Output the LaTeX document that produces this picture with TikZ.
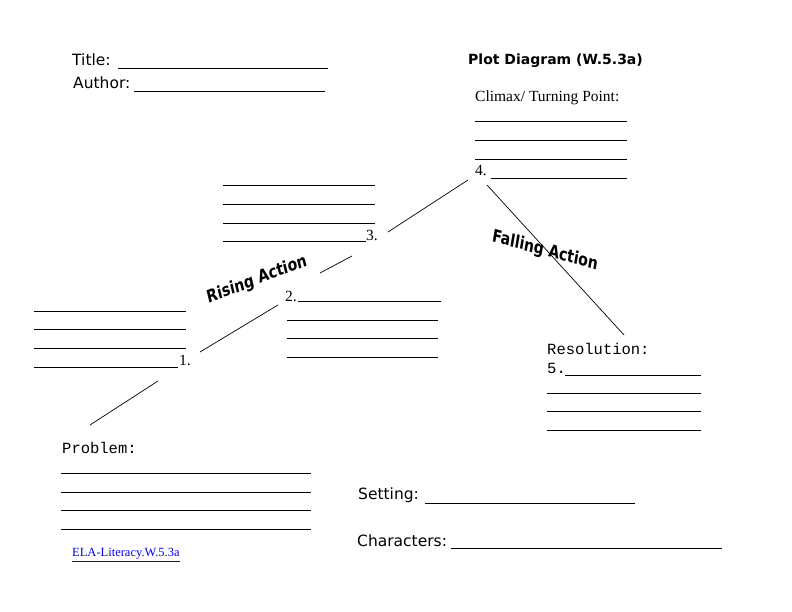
\documentclass[tikz,border=0pt]{standalone}
\usepackage{fontspec}
\setmainfont{Liberation Serif}
\setsansfont{DejaVu Sans}
\setmonofont{Liberation Mono}
\usetikzlibrary{positioning}
\tikzset{
  blank/.style={line width=0.6pt},
  plotline/.style={line width=0.7pt},
  sanslabel/.style={anchor=west,inner sep=0pt,font=\sffamily\fontsize{15.5}{17}\selectfont},
  monolabel/.style={anchor=west,inner sep=0pt,font=\ttfamily\fontsize{15.5}{17}\selectfont},
  seriflabel/.style={anchor=west,inner sep=0pt,font=\fontsize{15.5}{17}\selectfont},
  actionlabel/.style={font=\sffamily\bfseries\fontsize{17.5}{19}\selectfont,xscale=0.8}
}
\begin{document}
\begin{tikzpicture}[x=1pt,y=-1pt]
  \useasboundingbox (0,0) rectangle (792,612);

  % Header
  \node[sanslabel] (title) at (72,60) {Title:};
  \draw[blank] (118,68) -- (328,68);
  \node[sanslabel] (author) at (73,83) {Author:};
  \draw[blank] (134,91) -- (325,91);
  \node[sanslabel,font=\sffamily\bfseries\fontsize{14}{16}\selectfont] (heading) at (468,61) {Plot Diagram (W.5.3a)};

  % Climax
  \node[seriflabel] (climax) at (475,98) {Climax/ Turning Point:};
  \foreach \y in {121,140,159} \draw[blank] (475,\y) -- (627,\y);
  \node[seriflabel] (four) at (475,171) {4.};
  \draw[blank] (491,178) -- (627,178);

  % Plot line
  \draw[plotline] (90,425) -- (158,381);
  \draw[plotline] (200,352) -- (278,305);
  \draw[plotline] (320,273) -- (352,256);
  \draw[plotline] (388,232) -- (468,180);
  \draw[plotline] (487,185) -- (624,335);
  \node[actionlabel,rotate=17] (rising) at (257,280) {Rising Action};
  \node[actionlabel,rotate=-12] (falling) at (545,251) {Falling Action};

  % Event 3
  \foreach \y in {185,204,223} \draw[blank] (223,\y) -- (375,\y);
  \draw[blank] (223,241) -- (366,241);
  \node[seriflabel] (three) at (366,235) {3.};

  % Event 2
  \node[seriflabel] (two) at (285,296) {2.};
  \draw[blank] (298,301) -- (441,301);
  \foreach \y in {320,338,357} \draw[blank] (287,\y) -- (438,\y);

  % Event 1
  \foreach \y in {311,329,348} \draw[blank] (34,\y) -- (186,\y);
  \draw[blank] (34,367) -- (178,367);
  \node[seriflabel] (one) at (179,360) {1.};

  % Resolution
  \node[monolabel] (resolution) at (547,349) {Resolution:};
  \node[monolabel] (five) at (547,368) {5.};
  \draw[blank] (565,375) -- (701,375);
  \foreach \y in {393,411,430} \draw[blank] (547,\y) -- (701,\y);

  % Problem
  \node[monolabel] (problem) at (62,448) {Problem:};
  \foreach \y in {473,492,510,529} \draw[blank] (61,\y) -- (311,\y);

  % Setting and characters
  \node[sanslabel] (setting) at (358,495) {Setting:};
  \draw[blank] (425,503) -- (635,503);
  \node[sanslabel] (characters) at (357,541) {Characters:};
  \draw[blank] (451,548) -- (722,548);

  % Link
  \node[seriflabel,text=blue,font=\fontsize{12.5}{14}\selectfont] (link) at (72,555) {\underline{ELA-Literacy.W.5.3a}};
\end{tikzpicture}
\end{document}
